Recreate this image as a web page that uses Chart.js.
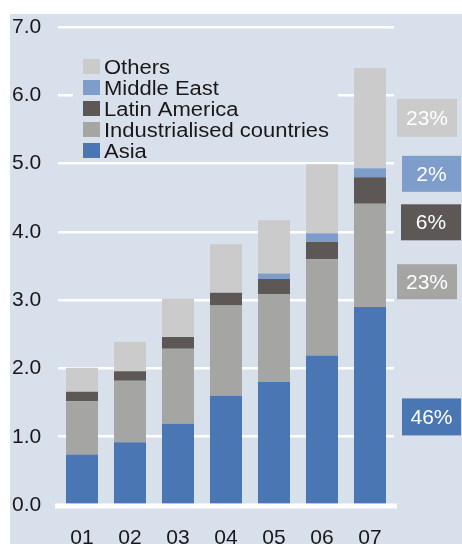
<!DOCTYPE html>
<html>
<head>
<meta charset="utf-8">
<script src="https://cdn.jsdelivr.net/npm/chart.js@4/dist/chart.umd.min.js"></script>
<style>
  html, body { margin: 0; padding: 0; background: #fff; }
  canvas { display: block; }
</style>
</head>
<body>
<canvas id="chart" width="462" height="544"></canvas>
<script>
// data (bottom of the stack first)
const years = ['01', '02', '03', '04', '05', '06', '07'];
const asia = [0.74, 0.92, 1.19, 1.60, 1.80, 2.19, 2.90];
const industrialised = [0.78, 0.90, 1.10, 1.32, 1.29, 1.41, 1.51];
const latinAmerica = [0.14, 0.14, 0.17, 0.19, 0.22, 0.25, 0.39];
const middleEast = [0, 0, 0, 0, 0.08, 0.13, 0.13];
const others = [0.35, 0.43, 0.56, 0.71, 0.78, 1.01, 1.47];
const shares07 = ['46%', '23%', '6%', '2%', '23%'];

const PANEL = '#d8e0ec';
const TEXT = '#1a1718';
const FONT = '"Liberation Sans", Arial, sans-serif';

const series = [
  { label: 'Asia', data: asia, color: '#4a76b3' },
  { label: 'Industrialised countries', data: industrialised, color: '#a5a5a4' },
  { label: 'Latin America', data: latinAmerica, color: '#5d5856' },
  { label: 'Middle East', data: middleEast, color: '#7e9dca' },
  { label: 'Others', data: others, color: '#cbcbcb' },
];

// share boxes at the right: centre (x px, y in axis units), size
const shareBoxes = [
  { cx: 431.5, y: 1.29, w: 59, h: 37 },
  { cx: 427, y: 3.27, w: 60, h: 35 },
  { cx: 431, y: 4.14, w: 60, h: 36 },
  { cx: 431.5, y: 4.85, w: 59, h: 36 },
  { cx: 427, y: 5.67, w: 60, h: 38 },
];

const panelPlugin = {
  id: 'panel',
  beforeDraw(chart) {
    const ctx = chart.ctx;
    ctx.save();
    ctx.fillStyle = PANEL;
    ctx.fillRect(10, 14, chart.width - 10, chart.height - 14);
    ctx.restore();
  },
};

const overlayPlugin = {
  id: 'overlay',
  afterDatasetsDraw(chart) {
    const { ctx, chartArea, scales } = chart;
    const y0 = scales.y.getPixelForValue(0);
    ctx.save();
    ctx.strokeStyle = '#fff';
    ctx.lineWidth = 5;
    ctx.beginPath();
    ctx.moveTo(chartArea.left - 3, y0 + 1);
    ctx.lineTo(chartArea.right + 3, y0 + 1);
    ctx.stroke();
    ctx.restore();
  },
  afterDraw(chart) {
    const { ctx, scales } = chart;
    ctx.save();

    // legend, top row = last dataset
    ctx.fillStyle = PANEL;
    ctx.fillRect(73, 52, 265, 110);
    ctx.font = '20px ' + FONT;
    ctx.textBaseline = 'alphabetic';
    ctx.textAlign = 'left';
    const rows = [...series].reverse();
    rows.forEach((s, i) => {
      const top = 59 + i * 21;
      ctx.fillStyle = s.color;
      ctx.fillRect(83, top, 17, 15);
      ctx.fillStyle = TEXT;
      ctx.save();
      ctx.translate(104, top + 15);
      ctx.scale(1.1, 1);
      ctx.fillText(s.label, 0, 0);
      ctx.restore();
    });

    // 2007 shares
    ctx.font = '21px ' + FONT;
    ctx.textAlign = 'center';
    ctx.textBaseline = 'middle';
    series.forEach((s, i) => {
      const b = shareBoxes[i];
      const cy = scales.y.getPixelForValue(b.y);
      ctx.fillStyle = s.color;
      ctx.fillRect(b.cx - b.w / 2, cy - b.h / 2, b.w, b.h);
      ctx.fillStyle = '#fff';
      ctx.fillText(shares07[i], b.cx, cy + 1);
    });
    ctx.restore();
  },
};

new Chart(document.getElementById('chart'), {
  type: 'bar',
  data: {
    labels: years,
    datasets: series.map((s) => ({
      label: s.label,
      data: s.data,
      backgroundColor: s.color,
      borderWidth: 0,
      categoryPercentage: 1,
      barPercentage: 0.667,
    })),
  },
  options: {
    responsive: false,
    animation: false,
    layout: { padding: { top: 27, right: 68, bottom: 0, left: 12 } },
    plugins: {
      legend: { display: false },
      tooltip: { enabled: false },
    },
    scales: {
      x: {
        stacked: true,
        grid: { display: false, drawTicks: false },
        border: { display: false },
        ticks: { color: TEXT, font: { family: FONT, size: 21 }, padding: 21, maxRotation: 0 },
        afterFit(scale) { scale.height = 39; },
      },
      y: {
        stacked: true,
        min: 0,
        max: 7,
        grid: { color: '#fff', lineWidth: 2.5, drawTicks: false },
        border: { display: false },
        ticks: {
          stepSize: 1,
          color: TEXT,
          font: { family: FONT, size: 21 },
          crossAlign: 'far',
          padding: 0,
          callback: (v) => v.toFixed(1),
        },
        afterFit(scale) { scale.width = 46; },
      },
    },
  },
  plugins: [panelPlugin, overlayPlugin],
});
</script>
</body>
</html>
